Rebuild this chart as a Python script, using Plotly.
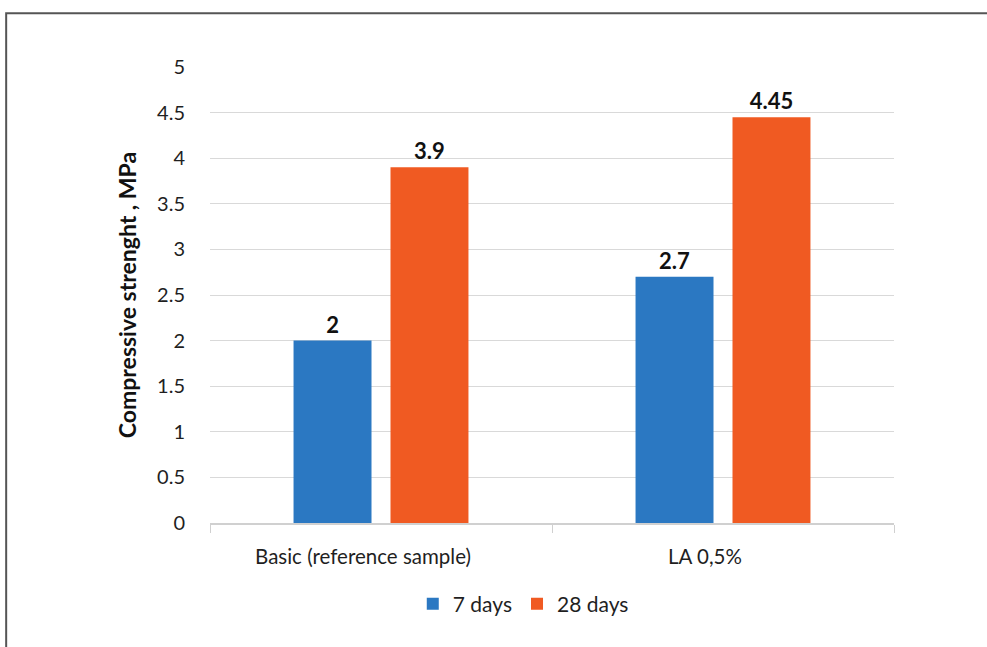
import plotly.graph_objects as go

categories = ["Basic (reference sample)", "LA 0,5%"]
days_7 = [2, 2.7]
days_28 = [3.9, 4.45]
y_ticks = [0, 0.5, 1, 1.5, 2, 2.5, 3, 3.5, 4, 4.5, 5]
y_tick_labels = ["0", "0.5", "1", "1.5", "2", "2.5", "3", "3.5", "4", "4.5", "5"]

FONT = "Lato, 'Open Sans', sans-serif"
BLUE = "#2B78C2"
ORANGE = "#F05A22"
TEXT = "#1f1f1f"

fig = go.Figure()
for name, vals, color in [("7 days", days_7, BLUE), ("28 days", days_28, ORANGE)]:
    fig.add_trace(go.Bar(
        name=name, x=categories, y=vals,
        marker=dict(color=color, line=dict(width=0)),
        text=[f"{v:g}" for v in vals],
        textposition="outside",
        textfont=dict(family=FONT, size=22, color="#111111"),
        texttemplate="<b>%{text}</b>",
        cliponaxis=False,
    ))

# outer frame line (left and top edges)
fig.add_shape(type="path", xref="paper", yref="paper",
              path="M -0.298,-0.4 L -0.298,1.118 L 1.3,1.118",
              line=dict(color="#555555", width=2))

fig.update_layout(
    width=987, height=647,
    margin=dict(l=210, r=93, t=67, b=124),
    paper_bgcolor="white", plot_bgcolor="white",
    barmode="group", bargap=0.433, bargroupgap=0.196,
    font=dict(family=FONT, size=20, color=TEXT),
    showlegend=True,
    legend=dict(orientation="h", x=0.458, xanchor="center", y=-0.178, yanchor="middle",
                font=dict(family=FONT, size=21, color=TEXT),
                itemwidth=30, traceorder="normal"),
    xaxis=dict(
        showline=True, linecolor="#d0d0d0", linewidth=1.5,
        ticks="outside", tickson="boundaries", ticklen=8, tickcolor="#d0d0d0",
        tickfont=dict(family=FONT, size=20.5, color=TEXT),
        ticklabelshift=-18, ticklabelstandoff=15,
        showgrid=False,
    ),
    yaxis=dict(
        range=[0, 5], tickvals=y_ticks, ticktext=y_tick_labels,
        showgrid=True, gridcolor="#d9d9d9", gridwidth=1,
        zeroline=False, showline=False, ticks="",
        ticklabelstandoff=24,
        tickfont=dict(family=FONT, size=20, color=TEXT),
        title=dict(text="<b>Compressive strenght , MPa</b>", standoff=14,
                   font=dict(family=FONT, size=23, color="#111111")),
    ),
)

fig.write_html("out.html")
